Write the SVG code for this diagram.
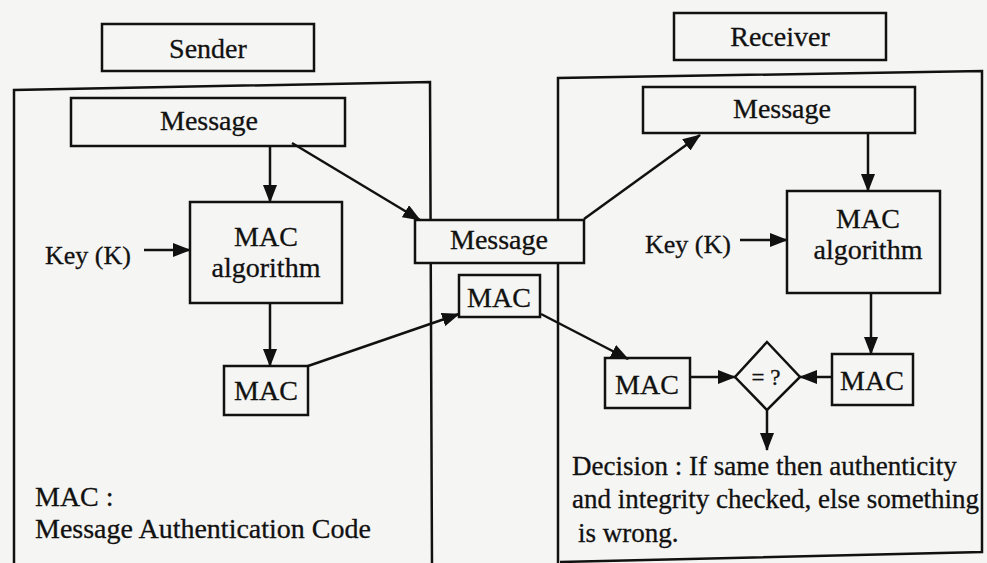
<svg xmlns="http://www.w3.org/2000/svg" width="987" height="563" viewBox="0 0 987 563">
  <style>
    .box { fill: none; stroke: #111; stroke-width: 2.5; }
    .fbox { fill: #f5f5f3; stroke: #111; stroke-width: 2.5; }
    .t { font-family: "Liberation Serif", "Times New Roman", serif; font-size: 28px; fill: #111; stroke: #111; stroke-width: 0.3; }
    .c { text-anchor: middle; }
    .d { font-size: 27px; }
    .ln { fill: none; stroke: #111; stroke-width: 2.5; }
  </style>
  <defs>
    <marker id="ah" markerUnits="userSpaceOnUse" markerWidth="18" markerHeight="14" refX="17" refY="7" orient="auto">
      <path d="M0,0 L18,7 L0,14 Z" fill="#111"/>
    </marker>
  </defs>
  <rect width="987" height="563" fill="#f5f5f3"/>

  <g id="sender-container">
    <path class="box" d="M14,565 L14,90 L430,82 L432,565"/>
  </g>
  <g id="receiver-container">
    <path class="box" d="M558,565 L558,78 L982,71 L982,552 L560,562"/>
  </g>

  <g id="sender-label">
    <rect class="box" x="102" y="24" width="212" height="47"/>
    <text class="t c" x="208" y="58">Sender</text>
  </g>
  <g id="receiver-label">
    <rect class="box" x="674" y="13" width="212" height="47"/>
    <text class="t c" x="780" y="46">Receiver</text>
  </g>

  <g id="sender-message">
    <rect class="box" x="71" y="98" width="274" height="48"/>
    <text class="t c" x="209" y="130">Message</text>
  </g>
  <g id="sender-mac-algorithm">
    <rect class="box" x="190" y="202" width="152" height="101"/>
    <text class="t c" x="266" y="246">MAC</text>
    <text class="t c" x="266" y="277">algorithm</text>
  </g>
  <g id="sender-key">
    <text class="t" x="45" y="264" style="font-size:26px">Key (K)</text>
  </g>
  <g id="sender-mac">
    <rect class="box" x="224" y="366" width="84" height="49"/>
    <text class="t c" x="266" y="400">MAC</text>
  </g>
  <g id="sender-note">
    <text class="t" x="35" y="506">MAC :</text>
    <text class="t" x="35" y="538">Message Authentication Code</text>
  </g>

  <g id="channel-message">
    <rect class="fbox" x="415" y="220" width="169" height="43"/>
    <text class="t c" x="499" y="249">Message</text>
  </g>
  <g id="channel-mac">
    <rect class="fbox" x="459" y="275" width="81" height="42"/>
    <text class="t c" x="499" y="307">MAC</text>
  </g>

  <g id="receiver-message">
    <rect class="box" x="643" y="87" width="272" height="46"/>
    <text class="t c" x="782" y="118">Message</text>
  </g>
  <g id="receiver-mac-algorithm">
    <rect class="box" x="787" y="191" width="153" height="102"/>
    <text class="t c" x="868" y="228">MAC</text>
    <text class="t c" x="868" y="259">algorithm</text>
  </g>
  <g id="receiver-key">
    <text class="t" x="645" y="253" style="font-size:26px">Key (K)</text>
  </g>
  <g id="receiver-mac-received">
    <rect class="box" x="605" y="358" width="85" height="50"/>
    <text class="t c" x="647" y="394">MAC</text>
  </g>
  <g id="receiver-mac-computed">
    <rect class="box" x="832" y="354" width="81" height="51"/>
    <text class="t c" x="872" y="390">MAC</text>
  </g>
  <g id="compare">
    <path class="box" d="M767,342 L800,377 L767,410 L735,377 Z"/>
    <text class="t c" x="766" y="385" style="font-size:23px">= ?</text>
  </g>
  <g id="decision">
    <text class="t d" x="572" y="475">Decision : If same then authenticity</text>
    <text class="t d" x="572" y="508">and integrity checked, else something</text>
    <text class="t d" x="578" y="542">is wrong.</text>
  </g>

  <g id="connectors">
    <line class="ln" x1="270" y1="146" x2="270" y2="202" marker-end="url(#ah)"/>
    <line class="ln" x1="144" y1="250" x2="190" y2="250" marker-end="url(#ah)"/>
    <line class="ln" x1="270" y1="303" x2="270" y2="366" marker-end="url(#ah)"/>
    <line class="ln" x1="292" y1="143" x2="420" y2="220" marker-end="url(#ah)"/>
    <line class="ln" x1="308" y1="366" x2="459" y2="314" marker-end="url(#ah)"/>
    <line class="ln" x1="584" y1="219" x2="700" y2="135" marker-end="url(#ah)"/>
    <line class="ln" x1="868" y1="133" x2="868" y2="191" marker-end="url(#ah)"/>
    <line class="ln" x1="740" y1="240" x2="787" y2="240" marker-end="url(#ah)"/>
    <line class="ln" x1="541" y1="314" x2="628" y2="359" marker-end="url(#ah)"/>
    <line class="ln" x1="871" y1="293" x2="871" y2="354" marker-end="url(#ah)"/>
    <line class="ln" x1="690" y1="377" x2="735" y2="377" marker-end="url(#ah)"/>
    <line class="ln" x1="832" y1="377" x2="800" y2="377" marker-end="url(#ah)"/>
    <line class="ln" x1="767" y1="410" x2="767" y2="450" marker-end="url(#ah)"/>
  </g>
</svg>
